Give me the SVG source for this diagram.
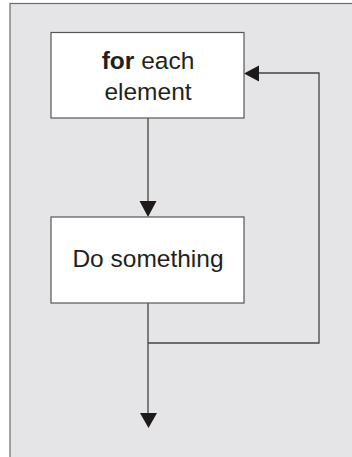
<svg xmlns="http://www.w3.org/2000/svg" width="352" height="457" viewBox="0 0 352 457">
<style>
.bg{fill:#e5e5e7;stroke:#6b6b6b;stroke-width:1.2}
.box{fill:#ffffff;stroke:#555;stroke-width:1.2}
.ln{fill:none;stroke:#444;stroke-width:1.3}
.ah{fill:#1e1a1a}
text{font-family:"Liberation Sans",Arial,sans-serif;font-size:24.5px;fill:#231f20;text-anchor:middle}
</style>
<rect class="bg" x="10" y="3.5" width="350" height="460"/>
<g id="connectors">
<path class="ln" d="M148 118 V203"/>
<polygon class="ah" points="139.5,201 156.5,201 148,217"/>
<path class="ln" d="M148 303 V415"/>
<polygon class="ah" points="140,413 157,413 148.5,428"/>
<path class="ln" d="M148 343 H319 V73 H257"/>
<polygon class="ah" points="259,65.5 259,81.5 244,73.5"/>
</g>
<g id="node-for">
<rect class="box" x="51" y="32.5" width="193" height="85.5"/>
<text x="148" y="69"><tspan font-weight="bold">for</tspan> each</text>
<text x="148" y="100">element</text>
</g>
<g id="node-do">
<rect class="box" x="51" y="217" width="193" height="86"/>
<text x="148" y="267">Do something</text>
</g>
</svg>
